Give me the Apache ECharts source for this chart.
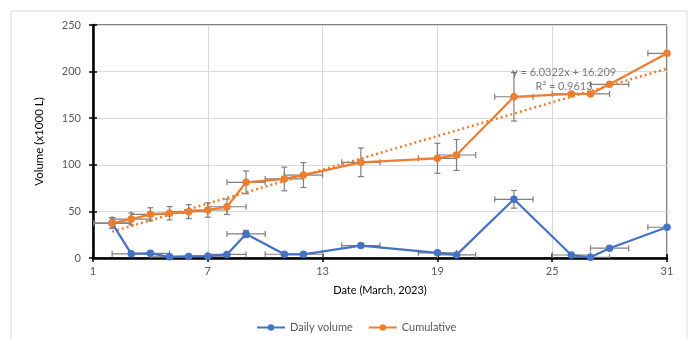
<!DOCTYPE html>
<html>
<head>
<meta charset="utf-8">
<title>Daily and cumulative volume, March 2023</title>
<script src="https://cdn.jsdelivr.net/npm/echarts@6/dist/echarts.min.js"></script>
<style>
  html, body { margin: 0; padding: 0; background: #fff; }
  #chart { width: 691px; height: 339px; }
</style>
</head>
<body>
<div id="chart"></div>
<script>
// Sampling days in March 2023
const days = [2, 3, 4, 5, 6, 7, 8, 9, 11, 12, 15, 19, 20, 23, 26, 27, 28, 31];
// Daily volume (x1000 L)
const dailyVolume = [37.5, 4.5, 5, 1.3, 1.7, 2, 3.8, 25.8, 4, 4, 13.3, 5.5, 3.3, 63, 3.2, 0.8, 10.5, 33];
// Cumulative volume (x1000 L)
const cumulativeVolume = [37.5, 41.8, 46.9, 48, 49.7, 51.5, 55, 81.2, 84.8, 89, 102.7, 107, 110.5, 173, 176, 176, 186.4, 219.6];
// Error bar half-widths: date uncertainty (days) and volume uncertainty (x1000 L)
const dateError = [1, 1, 1, 1, 1, 1, 1, 1, 1, 1, 1, 1, 1, 1, 1, 1, 1, 1];
const dailyError = [5.6, 0.7, 0.8, 0.2, 0.3, 0.3, 0.6, 3.9, 0.6, 0.6, 2, 0.8, 0.5, 9.5, 0, 0, 0, 0];
const cumulativeError = [5.6, 6.3, 7.0, 7.2, 7.5, 7.7, 8.3, 12.2, 12.7, 13.4, 15.4, 16.1, 16.6, 26, 0, 0, 0, 0];
// Linear trend fitted to the cumulative series
const trendSlope = 6.0322;
const trendIntercept = 16.209;
const trendR2 = 0.9613;
// Axis ticks
const xTicks = [1, 7, 13, 19, 25, 31];
const yTicks = [0, 50, 100, 150, 200, 250];

const BLUE = '#4472C4';
const ORANGE = '#ED7D31';
const TEXT = '#595959';
const FONT = 'Lato';

const chart = echarts.init(document.getElementById('chart'), null, { renderer: 'canvas' });

function pairs(values) {
  return days.map((d, i) => [d, values[i]]);
}
function errorRows(values, yErr) {
  return days.map((d, i) => [d, values[i], dateError[i], yErr[i]]);
}

// Draws x and y error bars with end caps
function renderErrorBars(params, api) {
  const x = api.value(0), y = api.value(1), xe = api.value(2), ye = api.value(3);
  const style = { stroke: '#7f7f7f', lineWidth: 1.2 };
  const cap = 3;
  const l = api.coord([x - xe, y]);
  const r = api.coord([x + xe, y]);
  const children = [
    { type: 'line', shape: { x1: l[0], y1: l[1], x2: r[0], y2: r[1] }, style },
    { type: 'line', shape: { x1: l[0], y1: l[1] - cap, x2: l[0], y2: l[1] + cap }, style },
    { type: 'line', shape: { x1: r[0], y1: r[1] - cap, x2: r[0], y2: r[1] + cap }, style }
  ];
  if (ye > 0) {
    const t = api.coord([x, y + ye]);
    const b = api.coord([x, y - ye]);
    children.push(
      { type: 'line', shape: { x1: t[0], y1: t[1], x2: b[0], y2: b[1] }, style },
      { type: 'line', shape: { x1: t[0] - cap, y1: t[1], x2: t[0] + cap, y2: t[1] }, style },
      { type: 'line', shape: { x1: b[0] - cap, y1: b[1], x2: b[0] + cap, y2: b[1] }, style }
    );
  }
  return { type: 'group', children };
}

const xMin = xTicks[0], xMax = xTicks[xTicks.length - 1];
const yMin = yTicks[0], yMax = yTicks[yTicks.length - 1];
const xStep = xTicks[1] - xTicks[0];
const yStep = yTicks[1] - yTicks[0];
const trendStart = days[0], trendEnd = days[days.length - 1];

const option = {
  animation: false,
  textStyle: { fontFamily: FONT },
  graphic: [{
    type: 'rect',
    shape: { x: 11, y: 11, width: 676, height: 340 },
    style: { fill: 'none', stroke: '#d9d9d9', lineWidth: 1 },
    silent: true
  }],
  grid: {
    left: 93, right: 24, top: 25, bottom: 81,
    show: true, borderColor: '#000', borderWidth: 1,
    outerBoundsMode: 'none'
  },
  legend: {
    top: 317, left: 251,
    itemWidth: 28, itemHeight: 8, itemGap: 15,
    textStyle: { color: TEXT, fontSize: 11, fontFamily: FONT },
    data: ['Daily volume', 'Cumulative']
  },
  xAxis: [{
    type: 'value', min: xMin, max: xMax, interval: xStep,
    name: 'Date (March, 2023)', nameLocation: 'middle', nameGap: 27,
    nameTextStyle: { color: '#000', fontSize: 11, fontFamily: FONT },
    axisLine: { show: true, lineStyle: { color: '#000', width: 2.5 } },
    axisTick: { show: true, length: 4, lineStyle: { color: '#000', width: 1.5 } },
    axisLabel: { color: TEXT, fontSize: 11, margin: 8 },
    splitLine: { show: true, lineStyle: { color: '#d9d9d9', width: 1 } }
  }, {
    type: 'value', min: xMin, max: xMax, interval: xStep, position: 'bottom',
    axisLine: { show: false },
    axisTick: { show: true, inside: true, length: 4, lineStyle: { color: '#000', width: 1.5 } },
    axisLabel: { show: false }, splitLine: { show: false }
  }],
  yAxis: [{
    type: 'value', min: yMin, max: yMax, interval: yStep,
    name: 'Volume (x1000 L)', nameLocation: 'middle', nameGap: 48,
    nameTextStyle: { color: '#000', fontSize: 11.5, fontFamily: FONT },
    axisLine: { show: true, lineStyle: { color: '#000', width: 2.5 } },
    axisTick: { show: true, length: 4, lineStyle: { color: '#000', width: 1.5 } },
    axisLabel: { color: TEXT, fontSize: 11, margin: 12 },
    splitLine: { show: true, lineStyle: { color: '#d9d9d9', width: 1 } }
  }, {
    type: 'value', min: yMin, max: yMax, interval: yStep, position: 'left',
    axisLine: { show: false },
    axisTick: { show: true, inside: true, length: 4, lineStyle: { color: '#000', width: 1.5 } },
    axisLabel: { show: false }, splitLine: { show: false }
  }],
  series: [
    {
      name: 'Daily volume error', type: 'custom', clip: true, z: 1,
      renderItem: renderErrorBars, data: errorRows(dailyVolume, dailyError), silent: true
    },
    {
      name: 'Cumulative error', type: 'custom', clip: true, z: 1,
      renderItem: renderErrorBars, data: errorRows(cumulativeVolume, cumulativeError), silent: true
    },
    {
      name: 'Trend', type: 'line', z: 2, symbol: 'none', silent: true,
      data: [[trendStart, trendSlope * trendStart + trendIntercept], [trendEnd, trendSlope * trendEnd + trendIntercept]],
      lineStyle: { color: ORANGE, width: 2.5, type: [2, 3], cap: 'butt' }
    },
    {
      name: 'Daily volume', type: 'line', z: 3, data: pairs(dailyVolume),
      symbol: 'circle', symbolSize: 7.5,
      itemStyle: { color: BLUE }, lineStyle: { color: BLUE, width: 2.25 }
    },
    {
      name: 'Cumulative', type: 'line', z: 3, data: pairs(cumulativeVolume),
      symbol: 'circle', symbolSize: 7.5,
      itemStyle: { color: ORANGE }, lineStyle: { color: ORANGE, width: 2.25 }
    },
    {
      name: 'Trend label', type: 'scatter', z: 4, silent: true,
      symbolSize: 0, data: [[25.62, 192]],
      label: {
        show: true, position: 'inside',
        formatter: 'y = ' + trendSlope + 'x + ' + trendIntercept + '\nR² = ' + trendR2,
        color: TEXT, fontSize: 11, lineHeight: 14, align: 'center', fontFamily: FONT
      }
    }
  ]
};
chart.setOption(option);
</script>
</body>
</html>
